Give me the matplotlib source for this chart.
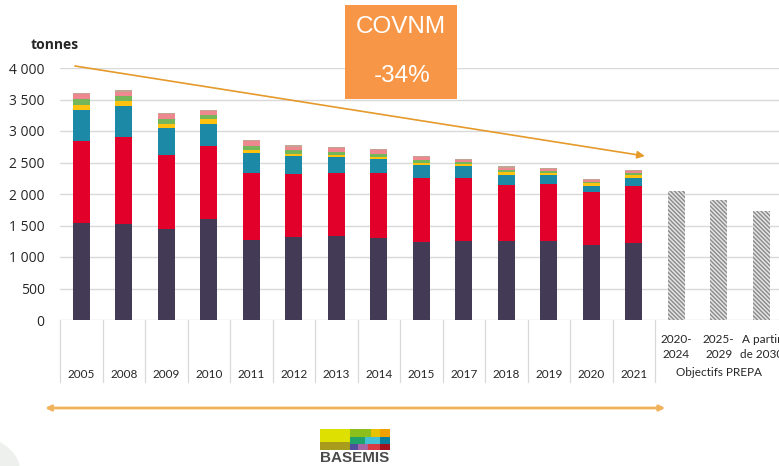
"""
plot.py
-------
COVNM emissions (tonnes) by sector, 2005-2021, with the PREPA objectives
as hatched bars on the right.
"""

import matplotlib
matplotlib.use("Agg")
import matplotlib.pyplot as plt
from matplotlib.patches import Rectangle, Circle
from matplotlib.ticker import FuncFormatter


# ── Data ───────────────────────────────────────────────────────────────────────
YEARS = ["2005", "2008", "2009", "2010", "2011", "2012", "2013",
         "2014", "2015", "2017", "2018", "2019", "2020", "2021"]

DARK   = [1543, 1516, 1452, 1596, 1271, 1324, 1328, 1307, 1240, 1250, 1254, 1248, 1190, 1227]
RED    = [1303, 1383, 1170, 1159, 1062,  988, 1000, 1021, 1019, 1009,  896,  907,  838,  907]
TEAL   = [ 489,  500,  426,  357,  317,  291,  254,  222,  201,  185,  159,  144,  106,  127]
YELLOW = [  75,   74,   69,   74,   55,   37,   42,   37,   37,   37,   43,   37,   43,   43]
GREEN  = [  95,   86,   74,   64,   64,   64,   48,   53,   43,   27,   31,   26,   21,   32]
PINK   = [  80,   63,   75,   69,   69,   42,   53,   53,   47,   37,   32,   27,   32,   26]
OTHER  = [  21,   27,   16,   16,   16,   26,   21,   16,   21,   16,   27,   21,   15,   16]

OBJ_LABELS = ["2020-\n2024", "2025-\n2029", "A partir\nde 2030"]
OBJ_VALUES = [2055, 1906, 1726]

Y_TICKS = [0, 500, 1000, 1500, 2000, 2500, 3000, 3500, 4000]

# ── Style ──────────────────────────────────────────────────────────────────────
SERIES = [
    (DARK,   "#433a55"),
    (RED,    "#e2002b"),
    (TEAL,   "#1c8aa6"),
    (YELLOW, "#ffc20e"),
    (GREEN,  "#76b65a"),
    (PINK,   "#ee8890"),
    (OTHER,  "#c3a493"),
]
GRID    = "#d9d9d9"
ORANGE  = "#f79646"
ARROW   = "#e59a2a"
BAR_W   = 0.40
TXT     = "#262626"
CAT_FONT = ["Lato", "DejaVu Sans"]

plt.rcParams["hatch.linewidth"] = 1.0

W, H = 779, 466
fig = plt.figure(figsize=(W / 100, H / 100), dpi=100)
fig.patch.set_facecolor("white")

# axes run a little past the right edge, as in the source slide
ax = fig.add_axes([60 / W, (H - 320) / H, 722.5 / W, 252 / H])
ax.set_xlim(-0.5, len(YEARS) + len(OBJ_VALUES) - 0.5)
ax.set_ylim(0, 4000)


# ── Bars ───────────────────────────────────────────────────────────────────────
x_years = list(range(len(YEARS)))
bottom = [0] * len(YEARS)
for values, colour in SERIES:
    ax.bar(x_years, values, BAR_W, bottom=bottom, color=colour, zorder=3)
    bottom = [b + v for b, v in zip(bottom, values)]

x_obj = [len(YEARS) + i for i in range(len(OBJ_VALUES))]
ax.bar(x_obj, OBJ_VALUES, BAR_W, color="#e4e4e4", edgecolor="#8a8a8a",
       linewidth=0, hatch="\\\\\\\\\\\\\\\\", zorder=3)


# ── Axes cosmetics ─────────────────────────────────────────────────────────────
for s in ax.spines.values():
    s.set_visible(False)
ax.set_yticks(Y_TICKS)
ax.yaxis.set_major_formatter(FuncFormatter(lambda v, _: f"{int(v):,}".replace(",", " ")))
ax.tick_params(axis="y", length=0, pad=11, labelsize=10, labelcolor=TXT)
for lab in ax.get_yticklabels():
    lab.set_family(["Open Sans", "DejaVu Sans"])
ax.set_xticks([])
ax.grid(axis="y", color=GRID, lw=1, zorder=0)

fig.text(55 / W, 1 - 45 / H, "tonnes", ha="center", va="center",
         fontsize=10, fontweight="bold", color=TXT,
         family=["Open Sans", "DejaVu Sans"])

# category "table" under the axis
px = 4000 / 252          # data units per pixel
for i in range(len(YEARS) + 1):
    ax.plot([i - 0.5, i - 0.5], [0, -62 * px], color=GRID, lw=0.9, clip_on=False)
for x, lab in zip(x_years, YEARS):
    ax.text(x, -54 * px, lab, ha="center", va="center", fontsize=8.5,
            color=TXT, family=CAT_FONT)
for x, lab in zip(x_obj, OBJ_LABELS):
    ax.text(x, -27 * px, lab, ha="center", va="center", fontsize=8.5,
            color=TXT, family=CAT_FONT, linespacing=1.5, clip_on=False)
ax.text(x_obj[1], -53 * px, "Objectifs PREPA", ha="center", va="center",
        fontsize=8.5, color=TXT, family=CAT_FONT)


# ── Arrows ─────────────────────────────────────────────────────────────────────
ax.annotate("", xy=(13.26, 2603), xytext=(-0.15, 4032),
            arrowprops=dict(arrowstyle="-|>", color=ARROW, lw=1.2,
                            mutation_scale=11, shrinkA=0, shrinkB=0),
            annotation_clip=False, zorder=4)
ax.annotate("", xy=(13.74, -88 * px), xytext=(-0.85, -88 * px),
            arrowprops=dict(arrowstyle="<|-|>", color="#f0b25a", lw=2,
                            mutation_scale=8, shrinkA=0, shrinkB=0),
            annotation_clip=False)


# ── Title box ──────────────────────────────────────────────────────────────────
fig.add_artist(Rectangle((345 / W, 1 - 99 / H), 112 / W, 94 / H,
                         transform=fig.transFigure, facecolor=ORANGE,
                         edgecolor="none", zorder=5))
fig.text(401 / W, 1 - 27 / H, "COVNM", ha="center", va="center", color="white",
         fontsize=17.5, family="Liberation Sans", zorder=6)
fig.text(402 / W, 1 - 76 / H, "-34%", ha="center", va="center", color="white",
         fontsize=17.5, family="Liberation Sans", zorder=6)


# ── BASEMIS logo + decoration ─────────────────────────────────────────────────
def _block(x0, y0, x1, y1, colour):
    fig.add_artist(Rectangle((x0 / W, 1 - y1 / H), (x1 - x0) / W, (y1 - y0) / H,
                             transform=fig.transFigure, facecolor=colour,
                             edgecolor="none"))

_block(320, 429, 350, 442, "#dde000")
_block(320, 442, 350, 450, "#a89c1c")
_block(350, 429, 371, 437, "#8cbf1c")
_block(371, 429, 380, 437, "#e8c200")
_block(380, 429, 390, 437, "#f0a000")
_block(350, 437, 365, 444, "#1fa36a")
_block(365, 437, 380, 444, "#44c0d4")
_block(380, 437, 390, 444, "#0a7f9c")
_block(350, 444, 358, 450, "#4f4f9e")
_block(358, 444, 368, 450, "#a866a4")
_block(368, 444, 380, 450, "#d83a44")
_block(380, 444, 390, 450, "#a3121f")
fig.text(355 / W, 1 - 458 / H, "BASEMIS", ha="center", va="center",
         fontsize=11, fontweight="bold", color="#4a4a4a",
         family=["Liberation Sans", "DejaVu Sans"])

fig.add_artist(Circle((-45 / W, 1 - 470 / H), 65 / W, transform=fig.transFigure,
                      facecolor="#eef0ee", edgecolor="none", zorder=0))

fig.savefig("out.png", dpi=100)
